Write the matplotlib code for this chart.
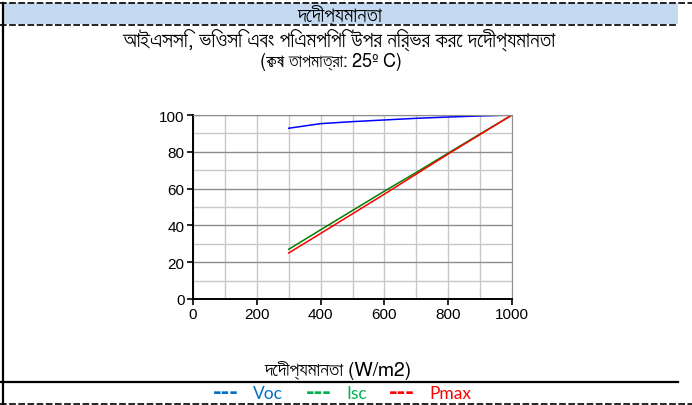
import matplotlib
matplotlib.use("Agg")
import matplotlib.pyplot as plt
from matplotlib import font_manager
from matplotlib.ft2font import FT2Font
from matplotlib.ticker import MultipleLocator

# values (% of value at 1000 W/m2)
irradiance = [300, 400, 500, 600, 700, 800, 900, 1000]
voc = [92.8, 95.3, 96.4, 97.3, 98.2, 98.9, 99.5, 100]
isc = [27.0, 37.6, 48.1, 58.6, 68.8, 79.3, 89.7, 100]
pmax = [25.0, 35.6, 46.3, 57.0, 67.9, 78.8, 89.4, 100]

header = "দেদীপ্যমানতা"
title = "আইএসসি, ভিওসি এবং পিএমপিপি উপর নির্ভর করে দেদীপ্যমানতা"
subtitle = "(কোষ তাপমাত্রা: 25º C)"
xlabel = "দেদীপ্যমানতা (W/m2)"
legend_names = ["Voc", "Isc", "Pmax"]
legend_colors = ["#0070C0", "#00B050", "#FF0000"]


def find_bengali_family():
    # installed fonts with Bengali glyphs; prefer a proportional sans face
    found = []
    for f in font_manager.fontManager.ttflist:
        try:
            if 0x09A6 in FT2Font(f.fname).get_charmap():
                found.append(f.name)
        except Exception:
            pass
    found = sorted(set(found), key=lambda n: ("Mono" in n, "Sans" not in n, "Serif" in n, n))
    return found[0] if found else None


bn = find_bengali_family()
text_fonts = ([bn] if bn else []) + ["Lato", "DejaVu Sans"]
latin_fonts = ["Lato", "DejaVu Sans"]

fig = plt.figure(figsize=(6.92, 4.06), dpi=100)

# sheet background in pixel coordinates
bg = fig.add_axes([0, 0, 1, 1], zorder=0)
bg.set_xlim(0, 692)
bg.set_ylim(406, 0)
bg.axis("off")
bg.axhspan(4, 25, xmin=3 / 692, xmax=678 / 692, color="#C5D9F1", lw=0)
bg.plot([0, 692], [4, 4], color="black", lw=1.2, ls=(0, (4, 1.5)))
bg.plot([0, 678], [25.5, 25.5], color="black", lw=1.2, ls=(0, (4, 1.5)))
bg.plot([0, 692], [405, 405], color="black", lw=1.2, ls=(0, (4, 1.5)))
bg.plot([0, 678], [383, 383], color="black", lw=1.6)
bg.plot([3, 3], [4, 406], color="black", lw=1.6)

bg.text(340, 15, header, ha="center", va="center", fontsize=15, family=text_fonts)
bg.text(339, 40, title, ha="center", va="center", fontsize=15.5, family=text_fonts)
bg.text(331, 62, subtitle, ha="center", va="center", fontsize=13, family=text_fonts)
bg.text(338, 371, xlabel, ha="center", va="center", fontsize=14, family=text_fonts)

legend_x = [213, 306, 389]
for x, name, c in zip(legend_x, legend_names, legend_colors):
    bg.text(x, 393, "---", ha="left", va="center", fontsize=15, fontweight="bold",
            color=c, family=["DejaVu Sans"])
    bg.text(x + 40, 394, name, ha="left", va="center", fontsize=12.5, color=c, family=latin_fonts)

ax = fig.add_axes([193 / 692, 1 - 300 / 406, 319 / 692, 184 / 406], zorder=1)
ax.plot(irradiance, voc, color="#0000FF", lw=1.1)
ax.plot(irradiance, isc, color="#008000", lw=1.1)
ax.plot(irradiance, pmax, color="#FF0000", lw=1.1)

ax.set_xlim(0, 1000)
ax.set_ylim(0, 100)
ax.xaxis.set_major_locator(MultipleLocator(200))
ax.xaxis.set_minor_locator(MultipleLocator(100))
ax.yaxis.set_major_locator(MultipleLocator(20))
ax.yaxis.set_minor_locator(MultipleLocator(10))
ax.grid(which="minor", axis="both", color="#C8C8C8", lw=1.0)
ax.grid(which="major", axis="x", color="#C8C8C8", lw=1.0)
ax.grid(which="major", axis="y", color="#8C8C8C", lw=1.0)
ax.set_axisbelow(True)
ax.tick_params(which="minor", length=0)
ax.tick_params(which="major", direction="out", length=4, width=1.2, color="black",
               labelsize=11, pad=2)
for lab in ax.get_xticklabels() + ax.get_yticklabels():
    lab.set_family(["Liberation Sans", "DejaVu Sans"])
ax.spines["left"].set_linewidth(1.4)
ax.spines["bottom"].set_linewidth(1.4)
ax.spines["top"].set_color("#8C8C8C")
ax.spines["right"].set_color("#8C8C8C")

fig.savefig("out.png", dpi=100)
